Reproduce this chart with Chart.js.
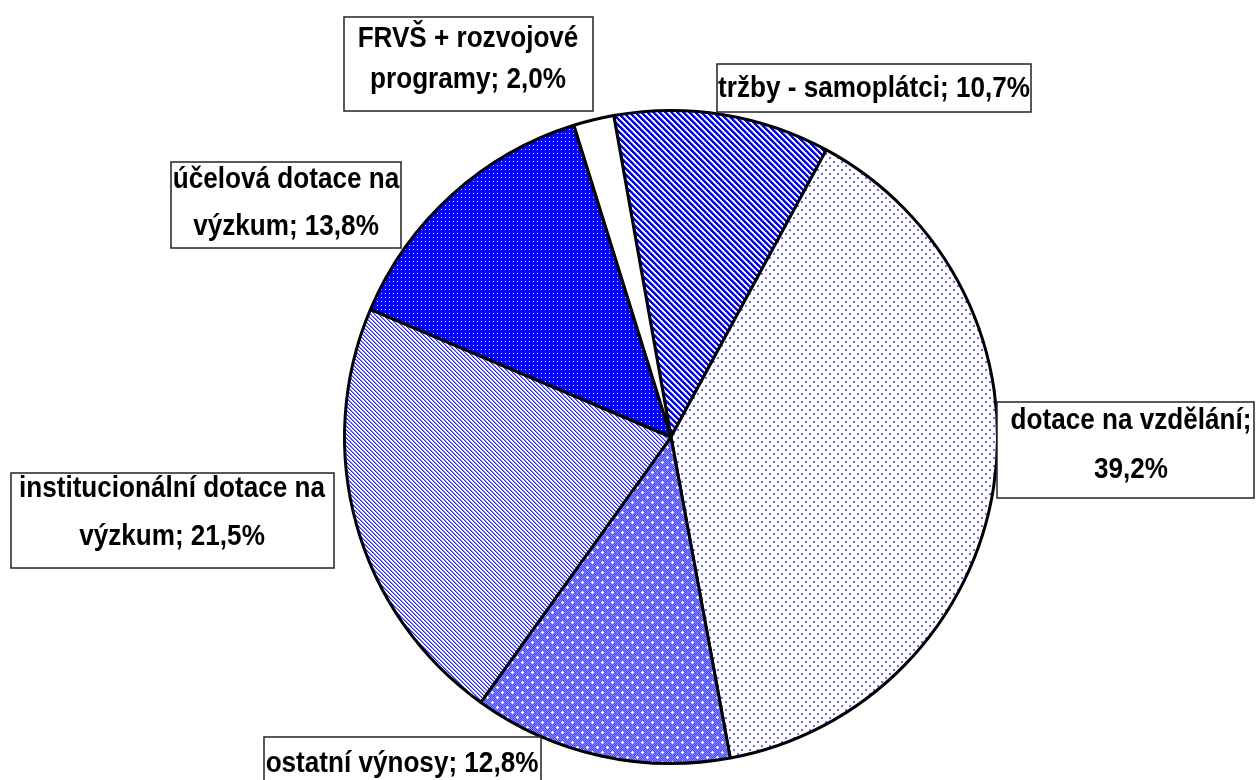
<!DOCTYPE html>
<html>
<head>
<meta charset="utf-8">
<script src="https://cdn.jsdelivr.net/npm/chart.js@4"></script>
<style>
  body { margin: 0; background: #fff; }
  #wrap { width: 1256px; height: 780px; }
</style>
</head>
<body>
<div id="wrap"><canvas id="graf" width="1256" height="780"></canvas></div>
<script>
// data (clockwise from the top)
const kategorie = ['tržby - samoplátci', 'dotace na vzdělání', 'ostatní výnosy',
  'institucionální dotace na výzkum', 'účelová dotace na výzkum', 'FRVŠ + rozvojové programy']
const podily = [10.7, 39.2, 12.8, 21.5, 13.8, 2.0]
// how many words go on the first line of each label (0 = one line)
const slovaPrvniRadek = [0, 3, 0, 3, 3, 3]

// label boxes, placed like in the original
const popisky = [
  { x: 717, y: 64, w: 314, h: 48, cx: 874, b: [97] },
  { x: 997, y: 402, w: 257, h: 96, cx: 1131, b: [429, 478] },
  { x: 264, y: 737, w: 277, h: 50, cx: 402, b: [772] },
  { x: 11, y: 473, w: 323, h: 95, cx: 172, b: [497, 545] },
  { x: 171, y: 162, w: 230, h: 86, cx: 286, b: [188, 235] },
  { x: 344, y: 17, w: 249, h: 94, cx: 468, b: [47, 88] }
]

function vzor(w, h, kresli) {
  const c = document.createElement('canvas')
  c.width = w
  c.height = h
  const g = c.getContext('2d')
  kresli(g)
  return g.createPattern(c, 'repeat')
}

const ctx = document.getElementById('graf').getContext('2d')

// wide stripes
const vzorTrzby = vzor(6, 6, g => {
  g.fillStyle = '#fff'
  g.fillRect(0, 0, 6, 6)
  for (let y = 0; y < 6; y++)
    for (let x = 0; x < 6; x++) {
      const d = ((x - y) % 6 + 6) % 6
      if (d < 3) { g.fillStyle = '#0000f0'; g.fillRect(x, y, 1, 1) }
      if (d === 3) { g.fillStyle = '#9a9aff'; g.fillRect(x, y, 1, 1) }
    }
})
// sparse dots
const vzorDotace = vzor(8, 8, g => {
  g.fillStyle = '#fff'
  g.fillRect(0, 0, 8, 8)
  g.fillStyle = '#6a6aff'
  g.fillRect(1, 1, 2, 2)
  g.fillRect(5, 5, 2, 2)
})
// blue with white crosses
const vzorOstatni = vzor(10, 10, g => {
  for (let y = 0; y < 10; y++)
    for (let x = 0; x < 10; x++) {
      g.fillStyle = (x + y) % 2 ? '#4444ff' : '#8c8cff'
      g.fillRect(x, y, 1, 1)
    }
  g.fillStyle = '#fff'
  ;[[2, 2], [7, 7]].forEach(([x, y]) => {
    g.fillRect(x - 1, y, 3, 1)
    g.fillRect(x, y - 1, 1, 3)
  })
})
// thin stripes
const vzorInst = vzor(4, 4, g => {
  g.fillStyle = '#fff'
  g.fillRect(0, 0, 4, 4)
  for (let y = 0; y < 4; y++)
    for (let x = 0; x < 4; x++) {
      const d = ((x - y) % 4 + 4) % 4
      if (d === 0) { g.fillStyle = '#2a2aff'; g.fillRect(x, y, 1, 1) }
      if (d === 1) { g.fillStyle = '#8a8aff'; g.fillRect(x, y, 1, 1) }
    }
})
// solid blue with white dots
const vzorUcel = vzor(4, 4, g => {
  g.fillStyle = '#0000ff'
  g.fillRect(0, 0, 4, 4)
  g.fillStyle = '#d8d8ff'
  g.fillRect(1, 1, 1, 1)
})

const vzory = [vzorTrzby, vzorDotace, vzorOstatni, vzorInst, vzorUcel, '#ffffff']

function textPopisku(i) {
  const hodnota = podily[i].toFixed(1).replace('.', ',')
  const cely = kategorie[i] + '; ' + hodnota + '%'
  const slova = cely.split(' ')
  const n = slovaPrvniRadek[i]
  if (!n) return [cely]
  return [slova.slice(0, n).join(' '), slova.slice(n).join(' ')]
}

const popiskyPlugin = {
  id: 'popisky',
  afterDraw(chart) {
    const c = chart.ctx
    c.save()
    popisky.forEach((p, i) => {
      c.fillStyle = '#fff'
      c.fillRect(p.x, p.y, p.w, p.h)
      c.strokeStyle = '#222'
      c.lineWidth = 1.5
      c.strokeRect(p.x, p.y, p.w, p.h)
      c.fillStyle = '#000'
      c.font = 'bold 30px "Liberation Sans", Arial, sans-serif'
      c.textAlign = 'center'
      c.textBaseline = 'alphabetic'
      textPopisku(i).forEach((radek, j) => {
        c.save()
        c.translate(p.cx, p.b[j])
        c.scale(0.87, 1)
        c.fillText(radek, 0, 0)
        c.restore()
      })
    })
    c.restore()
  }
}

new Chart(ctx, {
  type: 'pie',
  data: {
    labels: kategorie,
    datasets: [{
      data: podily,
      backgroundColor: vzory,
      borderColor: '#000',
      borderWidth: 3
    }]
  },
  options: {
    responsive: false,
    animation: false,
    rotation: -10.1,
    layout: { padding: { left: 343, right: 257, top: 109, bottom: 15 } },
    plugins: {
      legend: { display: false },
      tooltip: { enabled: false }
    }
  },
  plugins: [popiskyPlugin]
})
</script>
</body>
</html>
